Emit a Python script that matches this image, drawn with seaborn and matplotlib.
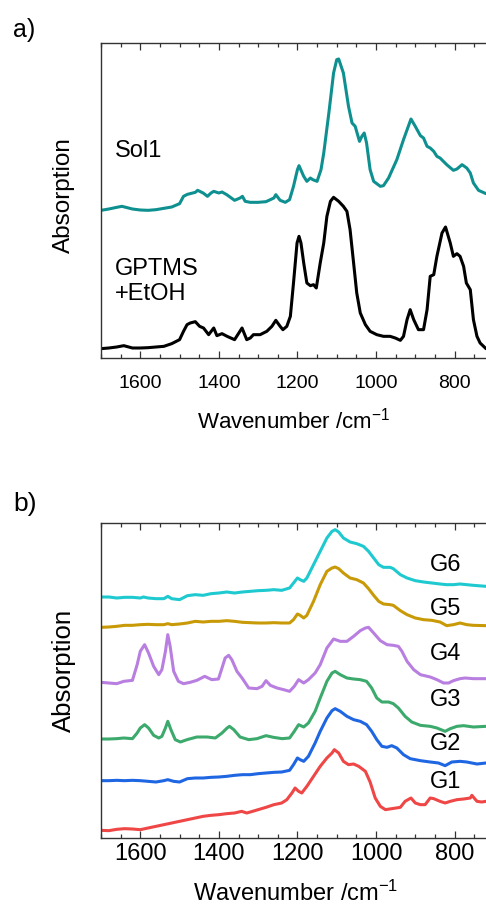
import matplotlib
matplotlib.use("Agg")
import matplotlib.pyplot as plt
from matplotlib.ticker import MultipleLocator
import seaborn as sns

# ----------------------------------------------------------
# Data (absorbance in arbitrary units)
# ----------------------------------------------------------

sol1_wn = [1700, 1680, 1660, 1647, 1640, 1620, 1600, 1580, 1560, 1540, 1520, 1500, 1490, 1480, 1460,
           1454, 1440, 1429, 1420, 1413, 1400, 1392, 1380, 1360, 1346, 1340, 1333, 1320, 1300, 1280,
           1260, 1255, 1244, 1231, 1220, 1210, 1200, 1196, 1184, 1176, 1167, 1161, 1150, 1140, 1133,
           1120, 1108, 1100, 1095, 1083, 1070, 1061, 1053, 1042, 1036, 1030, 1024, 1015, 1006, 989,
           981, 968, 947, 930, 911, 900, 887, 879, 870, 862, 853, 845, 837, 820, 803,
           794, 781, 769, 760, 752, 739, 720]
sol1_abs = [443, 447, 452, 455, 453, 447, 444, 443, 445, 449, 453, 463, 485, 491, 497,
            503, 495, 485, 495, 500, 495, 498, 490, 473, 480, 485, 470, 467, 467, 469,
            480, 490, 473, 467, 475, 515, 565, 577, 545, 530, 540, 535, 530, 565, 615,
            735, 855, 895, 897, 855, 755, 705, 695, 650, 665, 675, 645, 565, 530, 515,
            517, 540, 595, 655, 717, 695, 667, 660, 635, 630, 620, 605, 600, 580, 563,
            567, 580, 570, 555, 525, 503, 493]

gptms_wn = [1700, 1680, 1660, 1642, 1620, 1600, 1580, 1560, 1540, 1520, 1500, 1490, 1481, 1473, 1460,
            1449, 1439, 1426, 1413, 1405, 1392, 1379, 1360, 1341, 1329, 1320, 1312, 1295, 1278, 1265,
            1255, 1244, 1237, 1227, 1218, 1210, 1201, 1196, 1191, 1184, 1176, 1167, 1159, 1152, 1142,
            1133, 1125, 1116, 1108, 1095, 1083, 1074, 1066, 1057, 1049, 1040, 1027, 1015, 998, 981,
            964, 951, 938, 930, 921, 913, 904, 892, 879, 870, 862, 853, 845, 832, 823,
            811, 803, 794, 786, 777, 770, 760, 752, 743, 735, 720]
gptms_abs = [28, 30, 33, 37, 30, 30, 31, 33, 35, 43, 55, 80, 100, 105, 109,
             95, 90, 70, 90, 67, 73, 65, 55, 90, 55, 60, 70, 70, 80, 95,
             113, 95, 85, 95, 125, 225, 345, 365, 345, 285, 225, 217, 220, 210, 285,
             345, 425, 470, 482, 470, 455, 440, 385, 285, 195, 135, 100, 80, 70, 65,
             65, 60, 53, 65, 115, 145, 115, 85, 85, 145, 245, 250, 305, 375, 393,
             345, 305, 313, 305, 275, 225, 205, 115, 65, 45, 28]

g6_wn = [1700, 1680, 1660, 1640, 1620, 1600, 1592, 1580, 1560, 1540, 1530, 1520, 1500, 1480, 1460,
         1440, 1420, 1400, 1380, 1360, 1340, 1320, 1300, 1280, 1260, 1240, 1220, 1210, 1200, 1193,
         1184, 1176, 1159, 1142, 1125, 1112, 1104, 1095, 1083, 1066, 1049, 1032, 1019, 1006, 993,
         981, 964, 956, 938, 921, 900, 879, 858, 837, 820, 803, 786, 769, 752, 720]
g6_abs = [723, 723, 720, 722, 722, 720, 723, 720, 718, 718, 725, 718, 715, 727, 730,
          728, 733, 735, 738, 735, 738, 740, 742, 743, 745, 743, 750, 765, 780, 775,
          770, 780, 820, 860, 900, 920, 925, 918, 900, 888, 883, 875, 860, 840, 820,
          812, 812, 808, 790, 780, 772, 768, 765, 762, 760, 760, 762, 760, 758, 755]

g5_wn = [1700, 1680, 1660, 1640, 1620, 1600, 1580, 1560, 1540, 1530, 1520, 1500, 1480, 1460, 1440,
         1420, 1400, 1380, 1360, 1340, 1320, 1300, 1280, 1260, 1240, 1220, 1210, 1200, 1193, 1184,
         1176, 1159, 1142, 1125, 1112, 1104, 1095, 1083, 1066, 1049, 1032, 1019, 1006, 993, 981,
         964, 956, 938, 921, 900, 879, 858, 837, 820, 803, 786, 769, 752, 720]
g5_abs = [632, 633, 635, 638, 638, 640, 641, 640, 640, 643, 640, 642, 645, 650, 648,
          650, 650, 652, 650, 647, 646, 645, 645, 646, 645, 645, 655, 672, 668, 660,
          668, 710, 760, 800, 810, 813, 808, 795, 780, 775, 765, 748, 728, 710, 702,
          700, 698, 682, 670, 660, 655, 653, 648, 637, 640, 645, 640, 638, 637]

g4_wn = [1700, 1680, 1660, 1642, 1620, 1608, 1600, 1589, 1579, 1566, 1553, 1545, 1536, 1530, 1524,
         1515, 1503, 1490, 1473, 1456, 1436, 1418, 1401, 1392, 1384, 1375, 1367, 1354, 1341, 1324,
         1303, 1290, 1280, 1269, 1252, 1235, 1220, 1208, 1197, 1184, 1172, 1155, 1142, 1125, 1108,
         1091, 1074, 1057, 1040, 1027, 1019, 1006, 989, 972, 956, 943, 934, 921, 904, 887,
         862, 845, 828, 815, 803, 786, 773, 752, 720]
g4_abs = [467, 465, 463, 470, 473, 520, 560, 580, 555, 515, 490, 505, 560, 610, 575,
          500, 470, 463, 467, 473, 485, 475, 477, 510, 540, 548, 535, 500, 480, 450,
          448, 455, 472, 458, 450, 445, 440, 455, 475, 465, 475, 495, 520, 570, 597,
          590, 590, 605, 622, 630, 632, 615, 592, 580, 578, 575, 560, 530, 505, 490,
          483, 475, 465, 465, 472, 478, 480, 478, 478]

g3_wn = [1700, 1680, 1660, 1642, 1620, 1608, 1600, 1589, 1579, 1566, 1553, 1545, 1536, 1530, 1522,
         1511, 1498, 1481, 1456, 1430, 1409, 1392, 1379, 1373, 1362, 1346, 1324, 1303, 1280, 1261,
         1239, 1220, 1208, 1197, 1184, 1172, 1155, 1142, 1125, 1112, 1104, 1091, 1074, 1057, 1040,
         1024, 1011, 998, 985, 968, 956, 943, 926, 909, 887, 862, 845, 824, 811, 794,
         777, 752, 720]
g3_abs = [297, 297, 298, 300, 298, 315, 330, 340, 330, 308, 300, 305, 330, 350, 325,
          295, 288, 295, 303, 303, 300, 315, 330, 335, 325, 303, 295, 298, 307, 302,
          298, 300, 320, 340, 333, 345, 380, 420, 470, 495, 500, 490, 480, 477, 475,
          470, 450, 420, 408, 408, 403, 390, 365, 348, 338, 335, 330, 320, 328, 335,
          337, 333, 335]

g2_wn = [1700, 1680, 1660, 1640, 1620, 1600, 1580, 1560, 1540, 1530, 1515, 1500, 1480, 1460, 1440,
         1420, 1400, 1380, 1360, 1340, 1320, 1300, 1280, 1260, 1240, 1220, 1210, 1200, 1193, 1184,
         1172, 1155, 1142, 1125, 1112, 1104, 1091, 1074, 1057, 1040, 1024, 1011, 998, 985, 972,
         960, 947, 930, 913, 887, 862, 841, 824, 807, 786, 769, 743, 720]
g2_abs = [172, 172, 173, 172, 173, 172, 170, 168, 172, 175, 170, 168, 178, 180, 180,
          182, 183, 185, 188, 190, 190, 193, 195, 197, 198, 203, 220, 240, 235, 230,
          245, 285, 320, 360, 382, 388, 380, 365, 355, 350, 340, 320, 295, 275, 272,
          277, 270, 250, 238, 232, 228, 225, 217, 228, 230, 228, 222, 225]

g1_wn = [1700, 1680, 1660, 1640, 1620, 1600, 1580, 1560, 1540, 1520, 1500, 1480, 1460, 1440, 1420,
         1400, 1380, 1360, 1342, 1329, 1320, 1300, 1280, 1260, 1240, 1227, 1214, 1206, 1197, 1189,
         1176, 1159, 1142, 1125, 1112, 1106, 1095, 1083, 1070, 1057, 1044, 1027, 1015, 1002, 989,
         976, 960, 938, 926, 911, 900, 887, 875, 862, 853, 837, 824, 811, 794, 777,
         760, 756, 743, 731, 720]
g1_abs = [23, 22, 26, 28, 27, 25, 30, 35, 40, 45, 50, 55, 60, 65, 68,
          70, 73, 75, 80, 75, 78, 85, 92, 100, 105, 115, 135, 150, 140, 135,
          155, 185, 215, 240, 255, 265, 255, 230, 220, 222, 215, 200, 168, 120, 95,
          85, 88, 92, 110, 120, 105, 100, 100, 120, 118, 110, 105, 110, 115, 117,
          120, 128, 110, 108, 110]

top_names = ["Sol1", "GPTMS\n+EtOH"]
top_colors = ["#0f9090", "black"]
g_names = ["G1", "G2", "G3", "G4", "G5", "G6"]
g_colors = ["#ef4646", "#1f66e2", "#3caa6c", "#b87fe0", "#c99a08", "#1fc9d0"]

# ----------------------------------------------------------
# Figure
# ----------------------------------------------------------

sns.set_style("ticks")
plt.rcParams["font.family"] = ["Liberation Sans", "DejaVu Sans"]
plt.rcParams["mathtext.default"] = "regular"
plt.rcParams["text.color"] = "black"
plt.rcParams["axes.labelcolor"] = "black"
plt.rcParams["xtick.color"] = "black"

W, H = 486, 908
fig = plt.figure(figsize=(W / 100, H / 100), dpi=100)
ax_a = fig.add_axes([101 / W, 1 - 358 / H, 385 / W, 315 / H])
ax_b = fig.add_axes([101 / W, 1 - 838 / H, 385 / W, 315 / H])

lw = 2.2
sns.lineplot(x=sol1_wn, y=sol1_abs, ax=ax_a, color=top_colors[0], lw=lw, sort=False, estimator=None)
sns.lineplot(x=gptms_wn, y=gptms_abs, ax=ax_a, color=top_colors[1], lw=lw, sort=False, estimator=None)

g_data = [(g1_wn, g1_abs), (g2_wn, g2_abs), (g3_wn, g3_abs),
          (g4_wn, g4_abs), (g5_wn, g5_abs), (g6_wn, g6_abs)]
for (wn, ab), c in zip(g_data, g_colors):
    sns.lineplot(x=wn, y=ab, ax=ax_b, color=c, lw=lw, sort=False, estimator=None)

for ax, tick_fs, pad in [(ax_a, 14, 12), (ax_b, 17, 3.5)]:
    ax.set_xlim(1700, 720)
    ax.set_ylim(0, 945)
    ax.xaxis.set_major_locator(MultipleLocator(200))
    ax.xaxis.set_minor_locator(MultipleLocator(50))
    ax.tick_params(axis="x", which="both", direction="in", top=True, bottom=True,
                   color="#333333", width=0.9, labelcolor="black")
    ax.tick_params(axis="x", which="major", length=5, labelsize=tick_fs, pad=pad)
    ax.tick_params(axis="x", which="minor", length=3)
    ax.tick_params(axis="y", left=False, labelleft=False)
    ax.spines["right"].set_visible(False)
    for s in ["left", "top", "bottom"]:
        ax.spines[s].set_color("#333333")
        ax.spines[s].set_linewidth(1.0)

ax_a.set_xlabel("Wavenumber /cm$^{-1}$", fontsize=16)
ax_a.xaxis.set_label_coords(0.5, -0.159)
ax_a.set_ylabel("Absorption", fontsize=17.5)
ax_a.yaxis.set_label_coords(-0.068, 0.517)

ax_b.set_xlabel("Wavenumber /cm$^{-1}$", fontsize=17)
ax_b.xaxis.set_label_coords(0.505, -0.137)
ax_b.set_ylabel("Absorption", fontsize=18.5)
ax_b.yaxis.set_label_coords(-0.065, 0.533)

# labels on the spectra
ax_a.text(1664, 622, top_names[0], fontsize=17, va="center", ha="left")
ax_a.text(1664, 229, top_names[1], fontsize=17, va="center", ha="left", linespacing=1.2)

g_label_y = [167, 282, 413, 553, 688, 820]
for name, y in zip(g_names, g_label_y):
    ax_b.text(862, y, name, fontsize=17, va="center", ha="left")

fig.text(13 / W, 1 - 18 / H, "a)", fontsize=18, va="top", ha="left")
fig.text(13 / W, 1 - 492 / H, "b)", fontsize=19, va="top", ha="left")

fig.savefig("out.png", dpi=100)
